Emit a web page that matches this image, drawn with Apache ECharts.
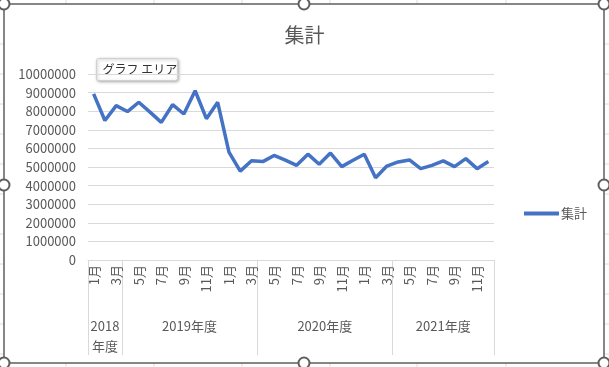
<!DOCTYPE html>
<html><head><meta charset="utf-8">
<script src="https://cdn.jsdelivr.net/npm/echarts@6/dist/echarts.min.js"></script>
<style>html,body{margin:0;padding:0;background:#fff}#c{width:609px;height:367px}</style>
</head><body><div id="c"></div>
<script>
var months = ['1月','2月','3月',
  '4月','5月','6月','7月','8月','9月','10月','11月','12月','1月','2月','3月',
  '4月','5月','6月','7月','8月','9月','10月','11月','12月','1月','2月','3月',
  '4月','5月','6月','7月','8月','9月','10月','11月','12月'];
var values = [8930000,7500000,8300000,7980000,8480000,7950000,7400000,8350000,7850000,9100000,7600000,8480000,
  5800000,4780000,5340000,5290000,5620000,5370000,5090000,5690000,5150000,5750000,5020000,5360000,
  5690000,4420000,5050000,5270000,5380000,4910000,5090000,5330000,5020000,5450000,4910000,5290000];
var groupNames = ['2018\n年度','2019年度','2020年度','2021年度'];
var groupSizes = [3,12,12,9];
var seriesName = '集計';
var yTicks = [0,1000000,2000000,3000000,4000000,5000000,6000000,7000000,8000000,9000000,10000000];

var bounds = [0], centers = [];
groupSizes.forEach(function(n,i){ var s = bounds[i]; bounds.push(s+n); centers.push(s+n/2); });

var font = 'Noto Sans CJK JP';
var grey = '#595959';
var chart = echarts.init(document.getElementById('c'));
var graphics = [];
[66,154,242,330,417,506].forEach(function(x){
  graphics.push({type:'line', shape:{x1:x,y1:0,x2:x,y2:4}, style:{stroke:'#dcdcdc',lineWidth:1}, z:-10});
  graphics.push({type:'line', shape:{x1:x,y1:363,x2:x,y2:367}, style:{stroke:'#dcdcdc',lineWidth:1}, z:-10});
});
[44,74,104,134,164,194,234,264,294,324,354].forEach(function(y){
  graphics.push({type:'line', shape:{x1:0,y1:y,x2:4,y2:y}, style:{stroke:'#dcdcdc',lineWidth:1}, z:-10});
  graphics.push({type:'line', shape:{x1:604,y1:y,x2:609,y2:y}, style:{stroke:'#dcdcdc',lineWidth:1}, z:-10});
});
graphics.push({type:'rect', shape:{x:4,y:4,width:600,height:359}, style:{fill:'none',stroke:'#5f5f5f',lineWidth:1.5}, z:-5});
[[4,4],[304,4],[604,4],[4,185],[604,185],[4,363],[304,363],[604,363]].forEach(function(p){
  graphics.push({type:'circle', shape:{cx:p[0],cy:p[1],r:5.5}, style:{fill:'#fff',stroke:'#5f5f5f',lineWidth:2}, z:100});
});
graphics.push({type:'group', left:96, top:58, z:100, children:[
  {type:'rect', shape:{x:0,y:0,width:81,height:22,r:2}, style:{fill:'#fff',stroke:'#d0d0d0',lineWidth:1,shadowBlur:3,shadowOffsetX:1,shadowOffsetY:1,shadowColor:'rgba(0,0,0,0.3)'}},
  {type:'text', x:6, y:5, style:{text:'グラフ エリア', fontSize:12, fontFamily:font, fill:'#333'}}
]});

chart.setOption({
  animation:false,
  backgroundColor:'#fff',
  title:{text:'集計', left:'center', top:20, textStyle:{fontSize:20, fontWeight:'normal', color:grey, fontFamily:font}},
  legend:{left:519, top:202, icon:'rect', itemWidth:35, itemHeight:4, itemGap:0,
    textStyle:{fontSize:13, color:grey, fontFamily:font, padding:[0,0,0,-3]}, data:[seriesName]},
  grid:{left:88, right:115, top:74, bottom:107, containLabel:false},
  xAxis:[{
    type:'category', data:months, boundaryGap:true,
    axisLine:{lineStyle:{color:'#d9d9d9', width:1}},
    axisTick:{show:false},
    axisLabel:{interval:1, rotate:90, margin:5, fontSize:13, color:grey, fontFamily:font}
  },{
    type:'value', position:'bottom', min:0, max:bounds[bounds.length-1],
    axisLine:{show:false}, splitLine:{show:false},
    axisTick:{show:true, customValues:bounds, length:95, lineStyle:{color:'#d9d9d9', width:1}},
    axisLabel:{customValues:centers, margin:56, fontSize:13, lineHeight:20, color:grey, fontFamily:font,
      formatter:function(v){ var i = centers.indexOf(v); return i>=0 ? groupNames[i] : ''; }}
  }],
  yAxis:{type:'value', min:yTicks[0], max:yTicks[yTicks.length-1], interval:yTicks[1]-yTicks[0],
    axisLine:{show:false}, axisTick:{show:false},
    splitLine:{lineStyle:{color:'#d9d9d9', width:1}},
    axisLabel:{margin:12, fontSize:13, color:grey, fontFamily:font, formatter:function(v){ return String(v); }}},
  series:[{name:seriesName, type:'line', data:values, showSymbol:false, symbol:'none',
    lineStyle:{color:'#4472C4', width:3.5}, itemStyle:{color:'#4472C4'}}],
  graphic:graphics
});
</script></body></html>
